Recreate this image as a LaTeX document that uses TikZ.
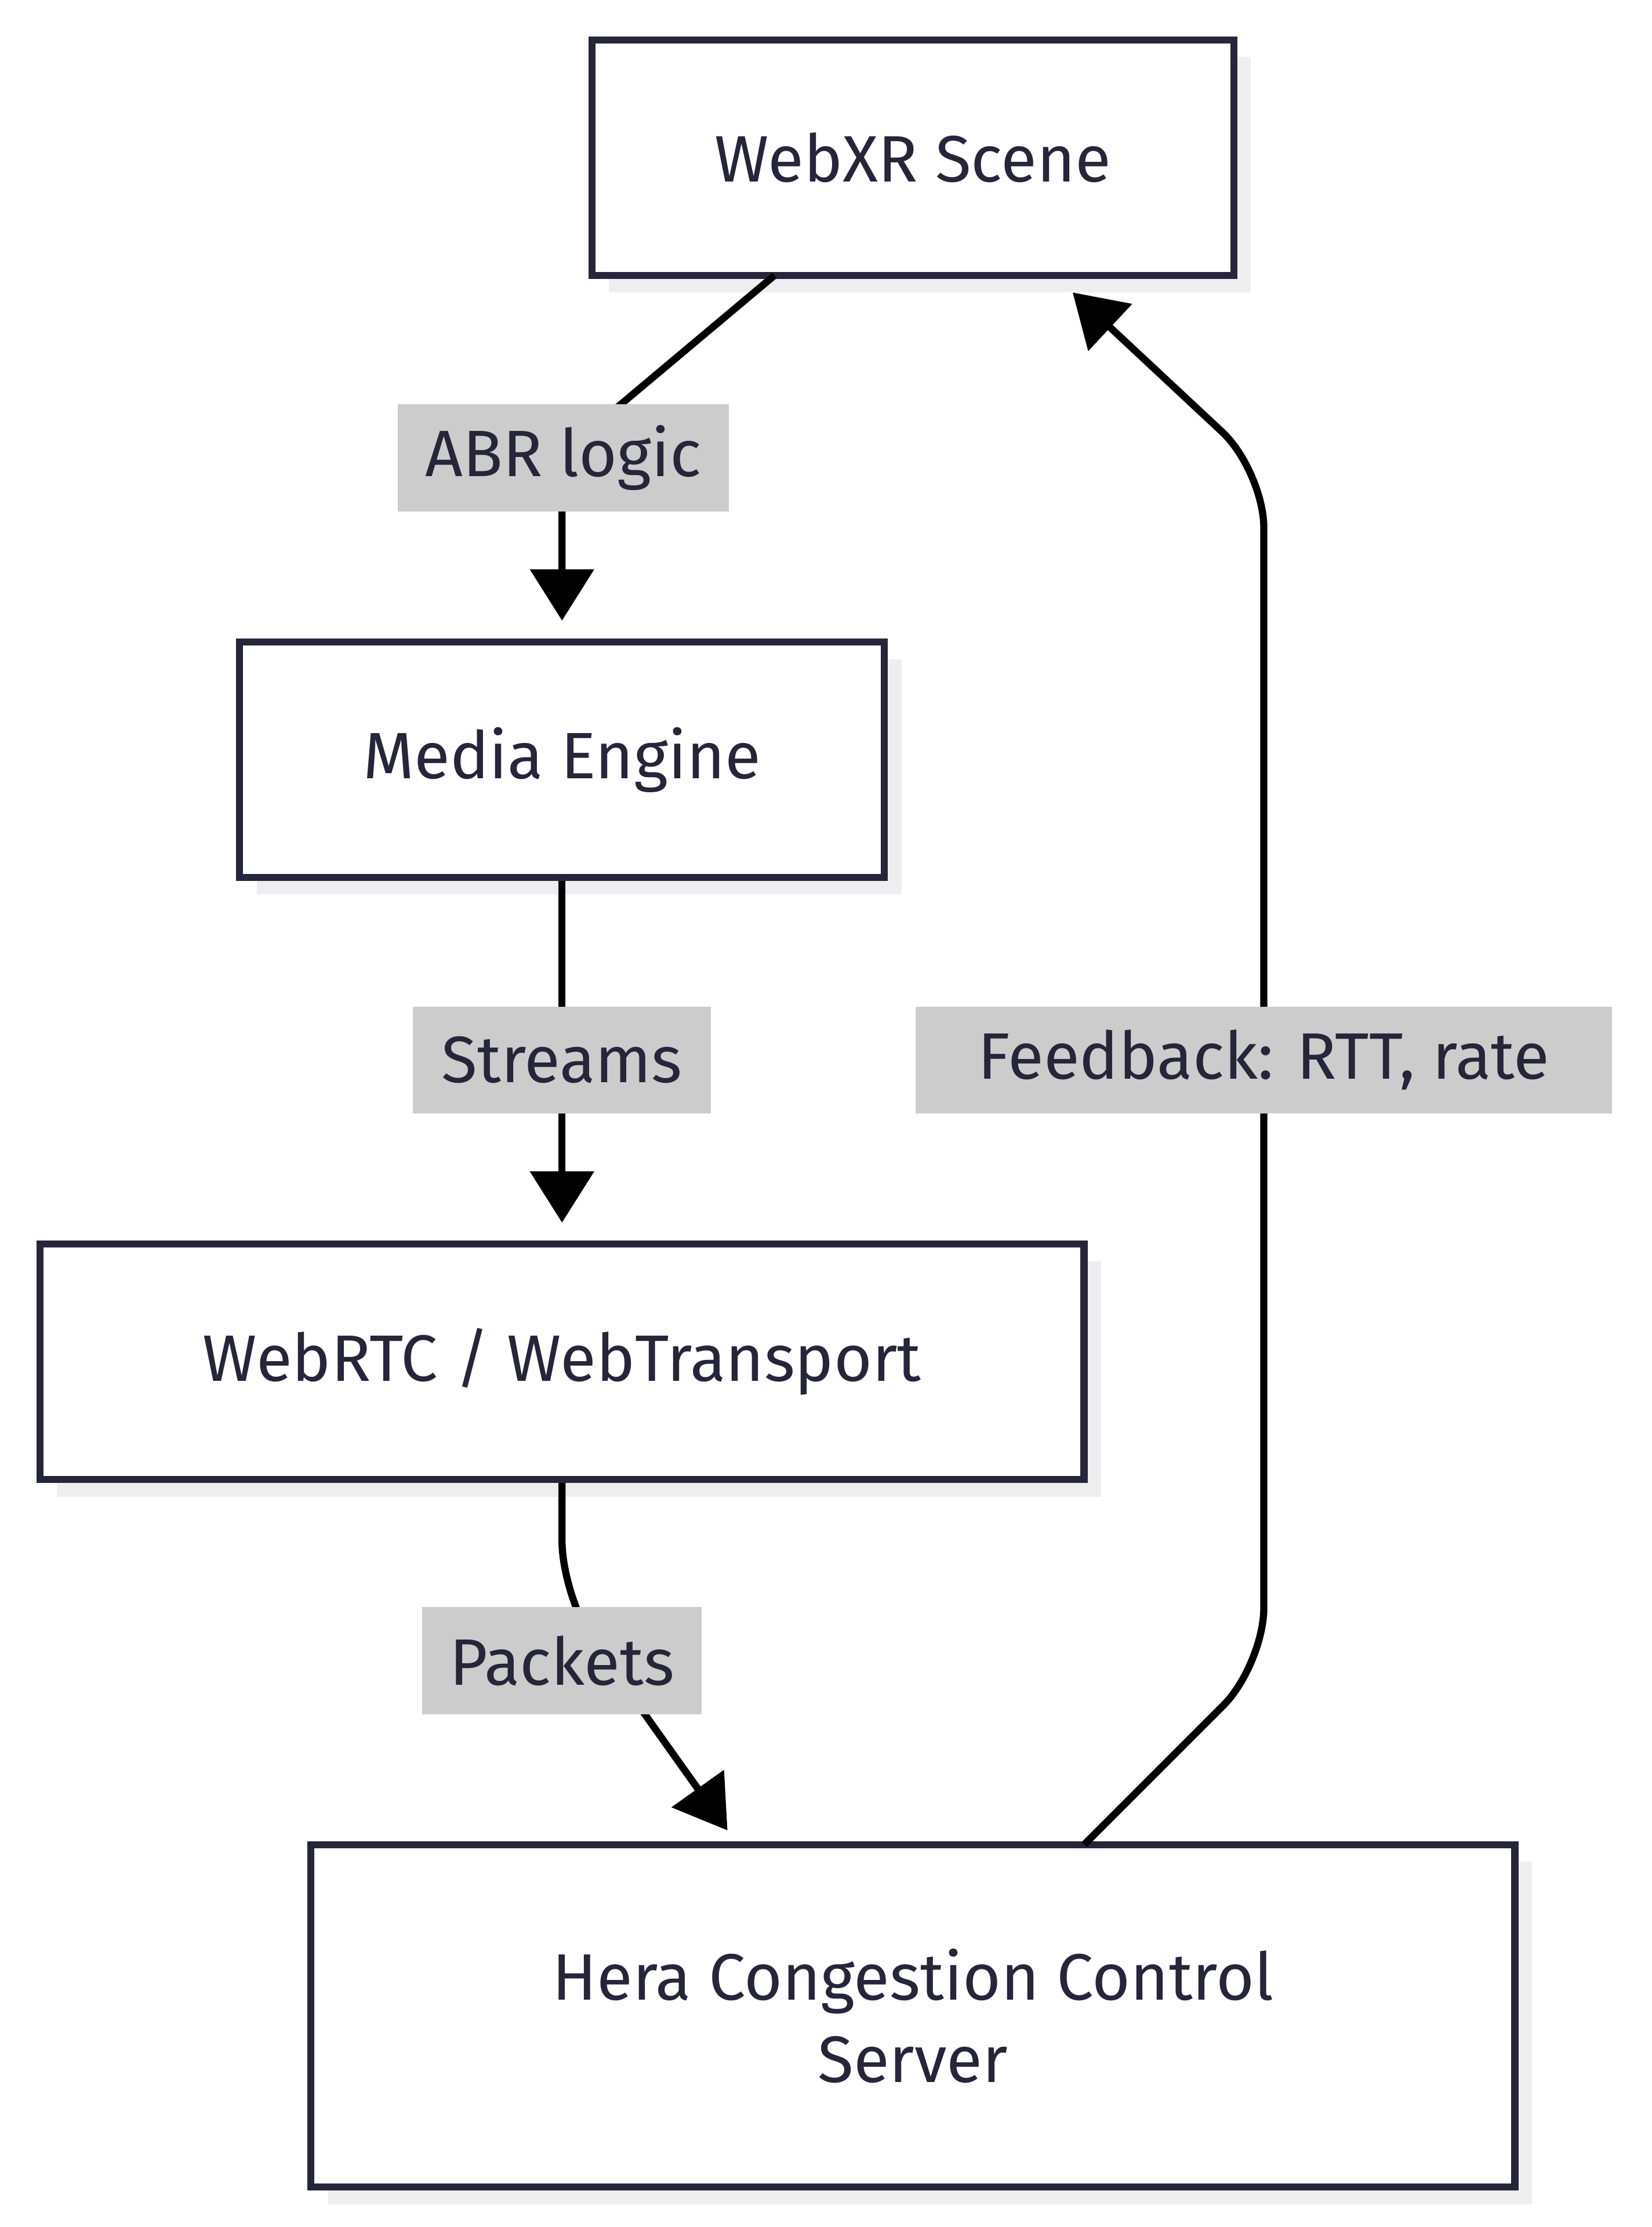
\documentclass[tikz,border=0pt]{standalone}
\usepackage{fontspec}
\setmainfont{Fira Sans}
\usetikzlibrary{arrows.meta}
\definecolor{ink}{HTML}{26263A}
\definecolor{shad}{HTML}{EEEEF0}
\definecolor{lab}{HTML}{CCCCCC}
\begin{document}
\begin{tikzpicture}[x=1pt,y=-1pt,
 box/.style={draw=ink,line width=5pt,fill=white,text=ink,minimum height=165pt,align=center,font=\fontsize{46}{58}\selectfont},
 lbl/.style={fill=lab,text=ink,inner sep=2pt,minimum height=75pt,font=\fontsize{46}{58}\selectfont},
 edge/.style={line width=5pt,-{Triangle[length=36pt,width=44pt]},rounded corners=40pt}]
\useasboundingbox (0,0) rectangle (1158,1561);
\foreach \a/\b/\c/\d in {415/28/865/193,168/450/620/615,28/872/760/1037,218/1293/1062/1533}
  \fill[shad] (\a+12,\b+12) rectangle (\c+12,\d+12);
\node[box,minimum width=450pt] (xr) at (640,110.5) {WebXR Scene};
\node[box,minimum width=452pt] (me) at (394,532.5) {Media Engine};
\node[box,minimum width=732pt] (rtc) at (394,954.5) {WebRTC / WebTransport};
\node[box,minimum width=844pt,minimum height=240pt] (hera) at (640,1413) {Hera Congestion Control\\Server};
\coordinate (t1) at (394,435); \coordinate (t2) at (394,857);
\coordinate (t3) at (510,1283); \coordinate (t4) at (752,205);
\draw[edge] (543,193) -- (394,318) -- (t1);
\draw[edge] (me.south) -- (t2);
\draw[edge] (rtc.south) -- (394,1120) -- (t3);
\draw[edge] (760,1293) -- (886,1167) -- (886,330) -- (t4);
\node[lbl,minimum width=232pt] (l1) at (395,321) {ABR logic};
\node[lbl,minimum width=209pt] (l2) at (394,743) {Streams};
\node[lbl,minimum width=196pt] (l3) at (394,1164) {Packets};
\node[lbl,minimum width=488pt] (l4) at (886,743) {Feedback: RTT, rate};
\end{tikzpicture}
\end{document}
